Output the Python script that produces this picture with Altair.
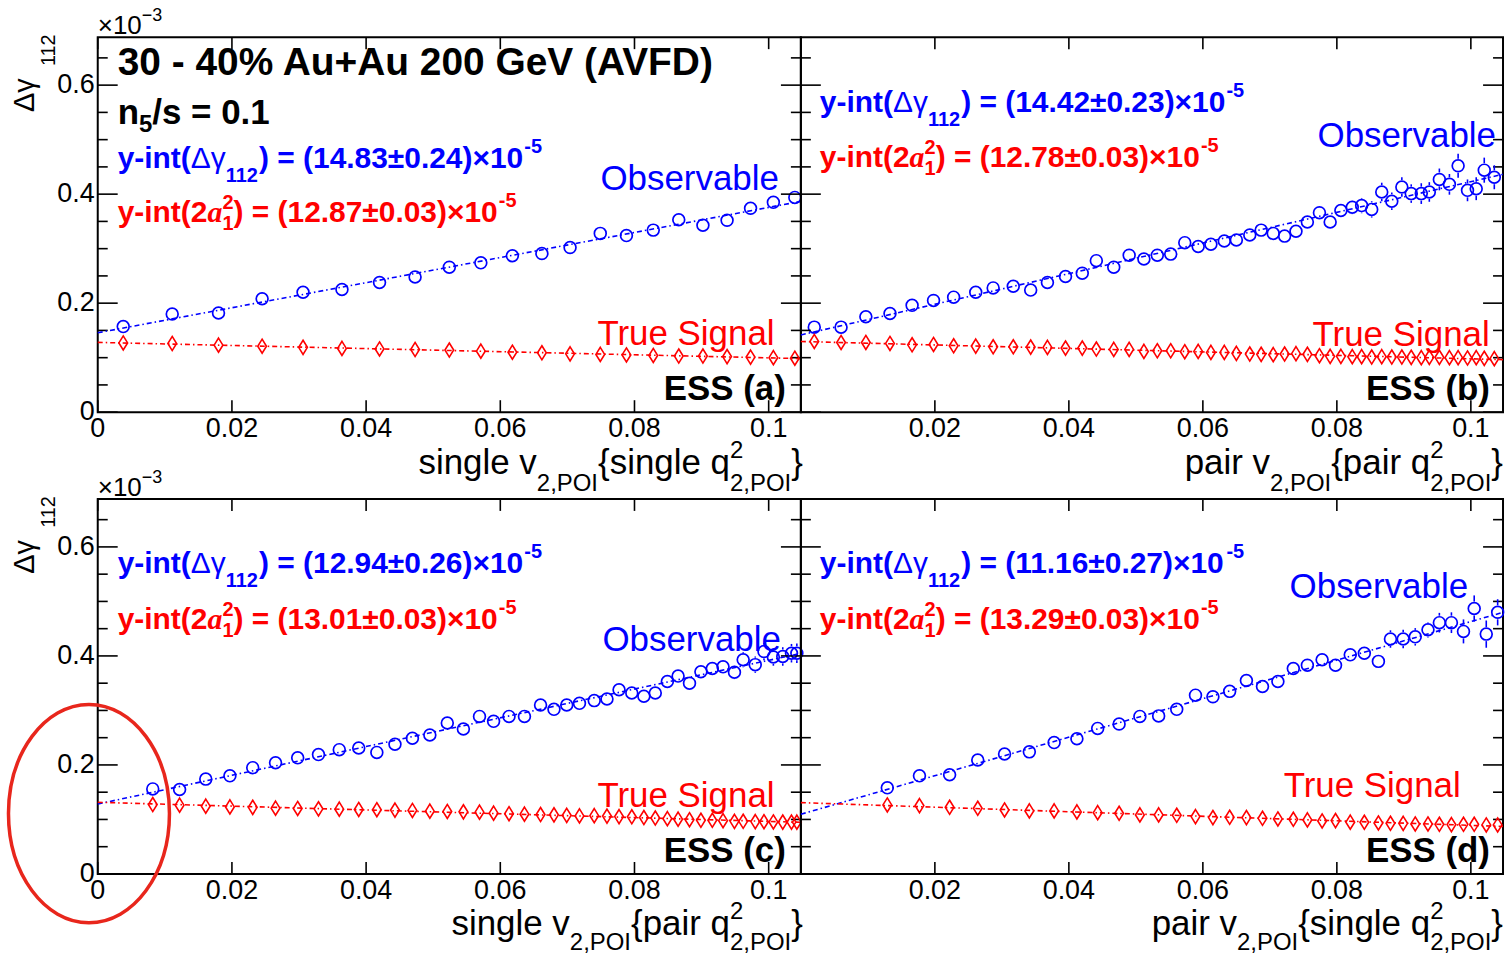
import altair as alt
import pandas as pd

FONT = "Liberation Sans"
SERIF = "Liberation Serif"
BLUE = "#0000ff"
RED = "#ff0000"
BLACK = "#000000"
RING = "#e8261c"

XMAX = 0.1048
YMAX = 0.688
H = 376
W_LEFT = 705
W_RIGHT = 704

X_TICKS = [0.0, 0.02, 0.04, 0.06, 0.08, 0.1]
X_LABELS = ["0", "0.02", "0.04", "0.06", "0.08", "0.1"]
Y_MAJOR = [0.0, 0.2, 0.4, 0.6]
Y_LABELS = ["0", "0.2", "0.4", "0.6"]
Y_MINOR = [0.05, 0.1, 0.15, 0.25, 0.3, 0.35, 0.45, 0.5, 0.55, 0.65]

# ---------------- panel (a): single v2 {single q2} ----------------
A_X = [0.0038, 0.0111, 0.0180, 0.0245, 0.0306, 0.0364, 0.0420, 0.0473, 0.0524, 0.0571, 0.0618,
       0.0662, 0.0704, 0.0749, 0.0788, 0.0828, 0.0866, 0.0902, 0.0938, 0.0973, 0.1007, 0.1039]
A_OBS = [0.157, 0.180, 0.182, 0.208, 0.220, 0.225, 0.238, 0.248, 0.266, 0.274, 0.287,
         0.291, 0.302, 0.328, 0.324, 0.334, 0.353, 0.343, 0.352, 0.374, 0.385, 0.394]
A_ERR = [0.004, 0.004, 0.004, 0.004, 0.004, 0.005, 0.005, 0.005, 0.005, 0.005, 0.005,
         0.006, 0.006, 0.006, 0.006, 0.006, 0.007, 0.007, 0.007, 0.007, 0.008, 0.008]
A_TRUE = [0.127, 0.126, 0.123, 0.121, 0.119, 0.117, 0.116, 0.115, 0.114, 0.112, 0.110,
          0.109, 0.107, 0.106, 0.105, 0.104, 0.103, 0.103, 0.102, 0.101, 0.100, 0.099]

# ---------------- panel (b): pair v2 {pair q2} ----------------
B_X = [0.0020, 0.0060, 0.0097, 0.0133, 0.0166, 0.0198, 0.0228, 0.0261, 0.0287, 0.0317,
       0.0343, 0.0368, 0.0395, 0.0420, 0.0441, 0.0467, 0.0490, 0.0512, 0.0532, 0.0552,
       0.0573, 0.0593, 0.0612, 0.0632, 0.0650, 0.0670, 0.0687, 0.0705, 0.0722, 0.0739,
       0.0756, 0.0774, 0.0790, 0.0806, 0.0823, 0.0837, 0.0852, 0.0867, 0.0882, 0.0897,
       0.0911, 0.0926, 0.0938, 0.0953, 0.0968, 0.0981, 0.0995, 0.1008, 0.1020, 0.1035]
B_OBS = [0.156, 0.156, 0.175, 0.181, 0.196, 0.205, 0.211, 0.220, 0.228, 0.231,
         0.224, 0.238, 0.249, 0.255, 0.278, 0.266, 0.288, 0.281, 0.288, 0.290,
         0.311, 0.304, 0.308, 0.314, 0.316, 0.325, 0.334, 0.328, 0.323, 0.332,
         0.349, 0.366, 0.349, 0.370, 0.376, 0.379, 0.372, 0.404, 0.387, 0.413,
         0.401, 0.401, 0.404, 0.427, 0.418, 0.452, 0.407, 0.410, 0.444, 0.431]
B_ERR = [0.005, 0.005, 0.005, 0.005, 0.005, 0.006, 0.006, 0.006, 0.006, 0.006,
         0.007, 0.007, 0.007, 0.007, 0.007, 0.008, 0.008, 0.008, 0.008, 0.008,
         0.009, 0.009, 0.009, 0.009, 0.009, 0.010, 0.010, 0.010, 0.010, 0.010,
         0.011, 0.011, 0.011, 0.012, 0.013, 0.014, 0.015, 0.017, 0.016, 0.018,
         0.017, 0.019, 0.018, 0.020, 0.019, 0.022, 0.020, 0.021, 0.023, 0.022]
B_TRUE = [0.1297, 0.1279, 0.1279, 0.1261, 0.1236, 0.1242, 0.1218, 0.1212, 0.1200, 0.1200,
          0.1194, 0.1188, 0.1176, 0.1176, 0.1158, 0.1152, 0.1152, 0.1115, 0.1127, 0.1127,
          0.1109, 0.1115, 0.1097, 0.1097, 0.1079, 0.1067, 0.1061, 0.1055, 0.1067, 0.1073,
          0.1061, 0.1036, 0.1024, 0.1024, 0.1018, 0.1018, 0.1012, 0.1018, 0.1012, 0.1012,
          0.1006, 0.1000, 0.1006, 0.1006, 0.1000, 0.1000, 0.0994, 0.1000, 0.0988, 0.0982]

# ---------------- panel (c): single v2 {pair q2} ----------------
C_X = [0.0082, 0.0122, 0.0161, 0.0197, 0.0231, 0.0265, 0.0298, 0.0329, 0.0360, 0.0389,
       0.0416, 0.0443, 0.0469, 0.0495, 0.0521, 0.0545, 0.0569, 0.0590, 0.0613, 0.0636,
       0.0660, 0.0680, 0.0699, 0.0718, 0.0740, 0.0759, 0.0777, 0.0796, 0.0814, 0.0831,
       0.0849, 0.0865, 0.0882, 0.0899, 0.0916, 0.0932, 0.0949, 0.0962, 0.0980, 0.0993,
       0.1007, 0.1021, 0.1034, 0.1042]
C_OBS = [0.156, 0.155, 0.174, 0.180, 0.195, 0.204, 0.213, 0.219, 0.228, 0.231,
         0.223, 0.238, 0.249, 0.255, 0.277, 0.266, 0.289, 0.280, 0.289, 0.289,
         0.310, 0.302, 0.310, 0.313, 0.318, 0.321, 0.338, 0.332, 0.326, 0.332,
         0.353, 0.363, 0.350, 0.371, 0.377, 0.380, 0.370, 0.393, 0.384, 0.408,
         0.398, 0.399, 0.405, 0.405]
C_ERR = [0.004, 0.004, 0.004, 0.004, 0.004, 0.005, 0.005, 0.005, 0.005, 0.005,
         0.005, 0.006, 0.006, 0.006, 0.006, 0.006, 0.007, 0.007, 0.007, 0.007,
         0.007, 0.008, 0.008, 0.008, 0.008, 0.008, 0.009, 0.009, 0.009, 0.009,
         0.010, 0.010, 0.010, 0.011, 0.011, 0.011, 0.013, 0.014, 0.015, 0.016,
         0.016, 0.017, 0.017, 0.018]
C_TRUE = [0.1274, 0.1262, 0.1244, 0.1230, 0.1222, 0.1207, 0.1201, 0.1195, 0.1189, 0.1183,
          0.1178, 0.1171, 0.1165, 0.1152, 0.1146, 0.1140, 0.1134, 0.1115, 0.1105, 0.1097,
          0.1090, 0.1085, 0.1075, 0.1065, 0.1070, 0.1061, 0.1052, 0.1049, 0.1035, 0.1026,
          0.1015, 0.1005, 0.0995, 0.0985, 0.0985, 0.0978, 0.0965, 0.0966, 0.0960, 0.0958,
          0.0954, 0.0952, 0.0951, 0.0950]

# ---------------- panel (d): pair v2 {single q2} ----------------
D_X = [0.0129, 0.0177, 0.0222, 0.0264, 0.0304, 0.0341, 0.0378, 0.0412, 0.0443, 0.0475,
       0.0506, 0.0534, 0.0561, 0.0589, 0.0615, 0.0640, 0.0665, 0.0689, 0.0712, 0.0735,
       0.0756, 0.0778, 0.0798, 0.0820, 0.0841, 0.0862, 0.0880, 0.0899, 0.0917, 0.0936,
       0.0953, 0.0971, 0.0989, 0.1005, 0.1023, 0.1040]
D_OBS = [0.158, 0.180, 0.182, 0.209, 0.220, 0.224, 0.241, 0.248, 0.267, 0.275,
         0.289, 0.290, 0.302, 0.328, 0.325, 0.335, 0.355, 0.344, 0.353, 0.377,
         0.383, 0.393, 0.383, 0.402, 0.405, 0.390, 0.431, 0.431, 0.435, 0.448,
         0.461, 0.461, 0.445, 0.487, 0.440, 0.480]
D_ERR = [0.005, 0.005, 0.005, 0.006, 0.006, 0.006, 0.006, 0.007, 0.007, 0.007,
         0.007, 0.008, 0.008, 0.008, 0.008, 0.009, 0.009, 0.009, 0.010, 0.010,
         0.010, 0.011, 0.011, 0.011, 0.012, 0.012, 0.016, 0.017, 0.016, 0.014,
         0.018, 0.019, 0.022, 0.024, 0.025, 0.024]
D_TRUE = [0.1266, 0.1254, 0.1223, 0.1205, 0.1174, 0.1156, 0.1156, 0.1138, 0.1125, 0.1113,
          0.1083, 0.1083, 0.1076, 0.1052, 0.1034, 0.1040, 0.1034, 0.1021, 0.1009, 0.1003,
          0.0991, 0.0972, 0.0979, 0.0950, 0.0948, 0.0935, 0.0930, 0.0928, 0.0917, 0.0917,
          0.0911, 0.0905, 0.0911, 0.0911, 0.0899, 0.0899]

# fit results written on the panels
YINT_OBS = ["(14.83±0.24)", "(14.42±0.23)", "(12.94±0.26)", "(11.16±0.27)"]
YINT_TRUE = ["(12.87±0.03)", "(12.78±0.03)", "(13.01±0.03)", "(13.29±0.03)"]
PANEL_TAGS = ["ESS (a)", "ESS (b)", "ESS (c)", "ESS (d)"]
V_KIND = ["single", "pair", "single", "pair"]
Q_KIND = ["single", "pair", "pair", "single"]
TITLE = "30 - 40% Au+Au 200 GeV (AVFD)"

# ---------------- text helpers (Arial/Liberation metrics) ----------------
REG = {" ": 278, ".": 278, ",": 278, "-": 333, "−": 584, "(": 333, ")": 333, "{": 334, "}": 334,
       "=": 584, "+": 584, "×": 584, "±": 584, "%": 889, "/": 278,
       "a": 556, "b": 556, "c": 500, "d": 556, "e": 556, "g": 556, "i": 222, "l": 222, "n": 556,
       "p": 556, "q": 556, "r": 333, "s": 500, "t": 278, "u": 556, "v": 500, "y": 500,
       "A": 667, "D": 722, "E": 667, "F": 611, "G": 778, "I": 278, "O": 778, "P": 667, "S": 667,
       "T": 611, "V": 667, "Δ": 668, "γ": 500}
BOLD = {" ": 278, ".": 278, ",": 278, "-": 333, "(": 333, ")": 333, "{": 389, "}": 389,
        "=": 584, "+": 584, "×": 584, "±": 584, "%": 889, "/": 278,
        "a": 556, "b": 611, "c": 556, "d": 611, "e": 556, "g": 611, "i": 278, "l": 278, "n": 611,
        "p": 611, "q": 611, "r": 389, "s": 556, "t": 333, "u": 611, "v": 556, "y": 556,
        "A": 722, "D": 722, "E": 667, "F": 611, "G": 778, "I": 278, "O": 778, "P": 667, "S": 667,
        "T": 611, "V": 667}
ITAL = {"a": 500}


def tw(text, size, kind):
    table = BOLD if kind == "b" else (ITAL if kind == "i" else REG)
    return sum(table.get(ch, 556) for ch in text) * size / 1000.0


def layout(groups, x0, y0, align="left"):
    widths = [max(tw(t, s, k) for (t, s, dy, k, c) in g) for g in groups]
    x = x0 - sum(widths) if align == "right" else x0
    rows = []
    for g, w in zip(groups, widths):
        for (t, s, dy, k, c) in g:
            rows.append({"t": t, "px": x, "py": y0 + dy, "s": s, "k": k, "c": c})
        x += w
    return rows


def yint_obs(val, x0, y0):
    return layout([[("y-int(", 30, 0, "b", BLUE)], [("Δγ", 30, 0, "r", BLUE)],
                   [("112", 20, 14, "b", BLUE)], [(") = " + val + "×10", 30, 0, "b", BLUE)],
                   [("-5", 20, -15, "b", BLUE)]], x0, y0)


def yint_true(val, x0, y0):
    return layout([[("y-int(2", 30, 0, "b", RED)], [("a", 30, 0, "i", RED)],
                   [("2", 20, -13, "b", RED), ("1", 20, 8, "b", RED)],
                   [(") = " + val + "×10", 30, 0, "b", RED)],
                   [("-5", 20, -15, "b", RED)]], x0, y0)


def xtitle(vk, qk, right, y0, sub_dy):
    return layout([[(vk + " v", 35, 0, "r", BLACK)], [("2,POI", 24, sub_dy, "r", BLACK)],
                   [("{" + qk + " q", 35, 0, "r", BLACK)],
                   [("2", 24, -16, "r", BLACK), ("2,POI", 24, sub_dy, "r", BLACK)],
                   [("}", 35, 0, "r", BLACK)]], right, y0, "right")


def ytitle():
    rows = [{"t": "Δγ", "px": -64, "py": 75, "s": 29, "k": "rot", "c": BLACK},
            {"t": "112", "px": -43, "py": 29, "s": 20, "k": "rot", "c": BLACK}]
    rows += layout([[("×10", 26, 0, "r", BLACK)], [("−3", 18, -13, "r", BLACK)]], 0, -3)
    return rows


def single(text, size, kind, color, x, y, align="left"):
    return layout([[(text, size, 0, kind, color)]], x, y, align)


KINDS = {"r": dict(font=FONT), "b": dict(font=FONT, fontWeight="bold"),
         "i": dict(font=SERIF, fontStyle="italic", fontWeight="bold"),
         "rot": dict(font=FONT, angle=270)}


def text_layers(rows):
    df = pd.DataFrame(rows)
    out = []
    for kind, props in KINDS.items():
        sub = df[df["k"] == kind]
        if len(sub) == 0:
            continue
        out.append(alt.Chart(sub).mark_text(align="left", baseline="alphabetic", **props).encode(
            x=alt.X("px:Q", scale=None, axis=None),
            y=alt.Y("py:Q", scale=None, axis=None),
            text="t:N",
            size=alt.Size("s:Q", scale=None, legend=None),
            color=alt.Color("c:N", scale=None, legend=None)))
    return out


DIAMOND = "M0,-1L0.62,0L0,1L-0.62,0Z"
ELLIPSE = "M-0.737,0A0.737,1,0,1,1,0.737,0A0.737,1,0,1,1,-0.737,0Z"
R_DATA = 7.0 * YMAX / H  # marker radius in data units (error bars drawn outside marker)


def panel(xs, yobs, yerr, ytrue, W, left, rows, extra=None):
    obs = pd.DataFrame({"x": xs, "y": yobs, "e": yerr})
    tru = pd.DataFrame({"x": xs, "y": ytrue})
    xsc = alt.Scale(domain=[0, XMAX], nice=False, zero=False)
    ysc = alt.Scale(domain=[0, YMAX], nice=False, zero=False)

    def X(f="x"):
        return alt.X(f + ":Q", scale=xsc, axis=None)

    def Y(f="y"):
        return alt.Y(f + ":Q", scale=ysc, axis=None)

    base = alt.Chart(obs).mark_point(shape="circle", size=140, filled=False, color=BLUE,
                                     strokeWidth=1.7, opacity=1).encode(x=X(), y=Y())

    xt = pd.DataFrame({"x": X_TICKS, "lab": X_LABELS})
    if not left:
        xt = xt.iloc[1:]
    ym = pd.DataFrame({"y": Y_MAJOR, "lab": Y_LABELS})
    yn = pd.DataFrame({"y": Y_MINOR})
    rule = dict(color=BLACK, strokeWidth=1.6)
    guides = [
        alt.Chart(xt).mark_rule(**rule).encode(x=X(), y=alt.value(H), y2=alt.value(H - 12)),
        alt.Chart(xt).mark_rule(**rule).encode(x=X(), y=alt.value(0), y2=alt.value(12)),
        alt.Chart(ym).mark_rule(**rule).encode(y=Y(), x=alt.value(0), x2=alt.value(20)),
        alt.Chart(ym).mark_rule(**rule).encode(y=Y(), x=alt.value(W - 20), x2=alt.value(W)),
        alt.Chart(yn).mark_rule(**rule).encode(y=Y(), x=alt.value(0), x2=alt.value(10)),
        alt.Chart(yn).mark_rule(**rule).encode(y=Y(), x=alt.value(W - 10), x2=alt.value(W)),
        alt.Chart(xt).mark_text(font=FONT, fontSize=27, align="center", baseline="top",
                                color=BLACK).encode(x=X(), y=alt.value(H + 4), text="lab:N"),
    ]
    if left:
        guides.append(alt.Chart(ym).mark_text(font=FONT, fontSize=27, align="right",
                                              baseline="middle", color=BLACK).encode(
            y=Y(), x=alt.value(-3), text="lab:N"))

    err = alt.Chart(obs).transform_filter(f"datum.e > {R_DATA}").transform_calculate(
        a1=f"datum.y + {R_DATA}", a2="datum.y + datum.e",
        b1=f"datum.y - {R_DATA}", b2="datum.y - datum.e")
    errs = [err.mark_rule(color=BLUE, strokeWidth=1.6).encode(x=X(), y=Y("a1"), y2="a2:Q"),
            err.mark_rule(color=BLUE, strokeWidth=1.6).encode(x=X(), y=Y("b1"), y2="b2:Q")]

    diam = alt.Chart(tru).mark_point(shape=DIAMOND, size=200, filled=False, color=RED,
                                     strokeWidth=1.6, opacity=1).encode(x=X(), y=Y())

    dash = [5, 3, 1.5, 3]
    fit_o = alt.Chart(obs).transform_regression("x", "y", extent=[0, XMAX]).mark_line(
        color=BLUE, strokeWidth=1.6, strokeDash=dash).encode(x=X(), y=Y())
    fit_t = alt.Chart(tru).transform_regression("x", "y", extent=[0, XMAX]).mark_line(
        color=RED, strokeWidth=1.6, strokeDash=dash).encode(x=X(), y=Y())

    layers = [base] + guides + errs + [diam, fit_o, fit_t] + text_layers(rows)
    if extra:
        layers += extra
    return alt.layer(*layers).properties(width=W, height=H)


one = pd.DataFrame({"k": [0]})
anchor = alt.Chart(one).mark_rule(color="white", strokeWidth=1).encode(
    x=alt.value(-92.5), x2=alt.value(-92.5), y=alt.value(-34.5), y2=alt.value(-33.5))
ring = alt.Chart(one).mark_point(shape=ELLIPSE, size=47961, filled=False, color=RING,
                                 strokeWidth=3.5, opacity=1).encode(
    x=alt.value(-8.8), y=alt.value(315.5))

rows_a = (single(TITLE, 39, "b", BLACK, 20, 38)
          + layout([[("n", 35, 0, "b", BLACK)], [("5", 24, 8, "b", BLACK)],
                    [("/s = 0.1", 35, 0, "b", BLACK)]], 20, 87)
          + yint_obs(YINT_OBS[0], 20, 131) + yint_true(YINT_TRUE[0], 20, 185)
          + single("Observable", 35, "r", BLUE, 683, 153, "right")
          + single("True Signal", 35, "r", RED, 680, 309, "right")
          + single(PANEL_TAGS[0], 35, "b", BLACK, 690, 364, "right")
          + xtitle(V_KIND[0], Q_KIND[0], 707, 438, 17) + ytitle())

rows_b = (yint_obs(YINT_OBS[1], 19, 75) + yint_true(YINT_TRUE[1], 19, 130)
          + single("Observable", 35, "r", BLUE, 697, 110, "right")
          + single("True Signal", 35, "r", RED, 692, 310, "right")
          + single(PANEL_TAGS[1], 35, "b", BLACK, 691, 364, "right")
          + xtitle(V_KIND[1], Q_KIND[1], 704, 438, 17))

rows_c = (yint_obs(YINT_OBS[2], 20, 74) + yint_true(YINT_TRUE[2], 20, 130)
          + single("Observable", 35, "r", BLUE, 685, 152, "right")
          + single("True Signal", 35, "r", RED, 680, 309, "right")
          + single(PANEL_TAGS[2], 35, "b", BLACK, 690, 364, "right")
          + xtitle(V_KIND[2], Q_KIND[2], 707, 437, 15) + ytitle())

rows_d = (yint_obs(YINT_OBS[3], 19, 74) + yint_true(YINT_TRUE[3], 19, 130)
          + single("Observable", 35, "r", BLUE, 669, 99, "right")
          + single("True Signal", 35, "r", RED, 663, 299, "right")
          + single(PANEL_TAGS[3], 35, "b", BLACK, 691, 364, "right")
          + xtitle(V_KIND[3], Q_KIND[3], 704, 437, 15))

pa = panel(A_X, A_OBS, A_ERR, A_TRUE, W_LEFT, True, rows_a, [anchor])
pb = panel(B_X, B_OBS, B_ERR, B_TRUE, W_RIGHT, False, rows_b)
pc = panel(C_X, C_OBS, C_ERR, C_TRUE, W_LEFT, True, rows_c, [ring])
pd_ = panel(D_X, D_OBS, D_ERR, D_TRUE, W_RIGHT, False, rows_d)

chart = alt.concat(pa, pb, pc, pd_, columns=2, spacing={"row": 87, "column": 0},
                   bounds="flush").properties(
    padding={"left": 0, "top": 0, "right": 0, "bottom": 0},
    background="white").configure_view(stroke=BLACK, strokeWidth=2)

chart.save("out.html", embed_options={"renderer": "svg", "actions": False})
